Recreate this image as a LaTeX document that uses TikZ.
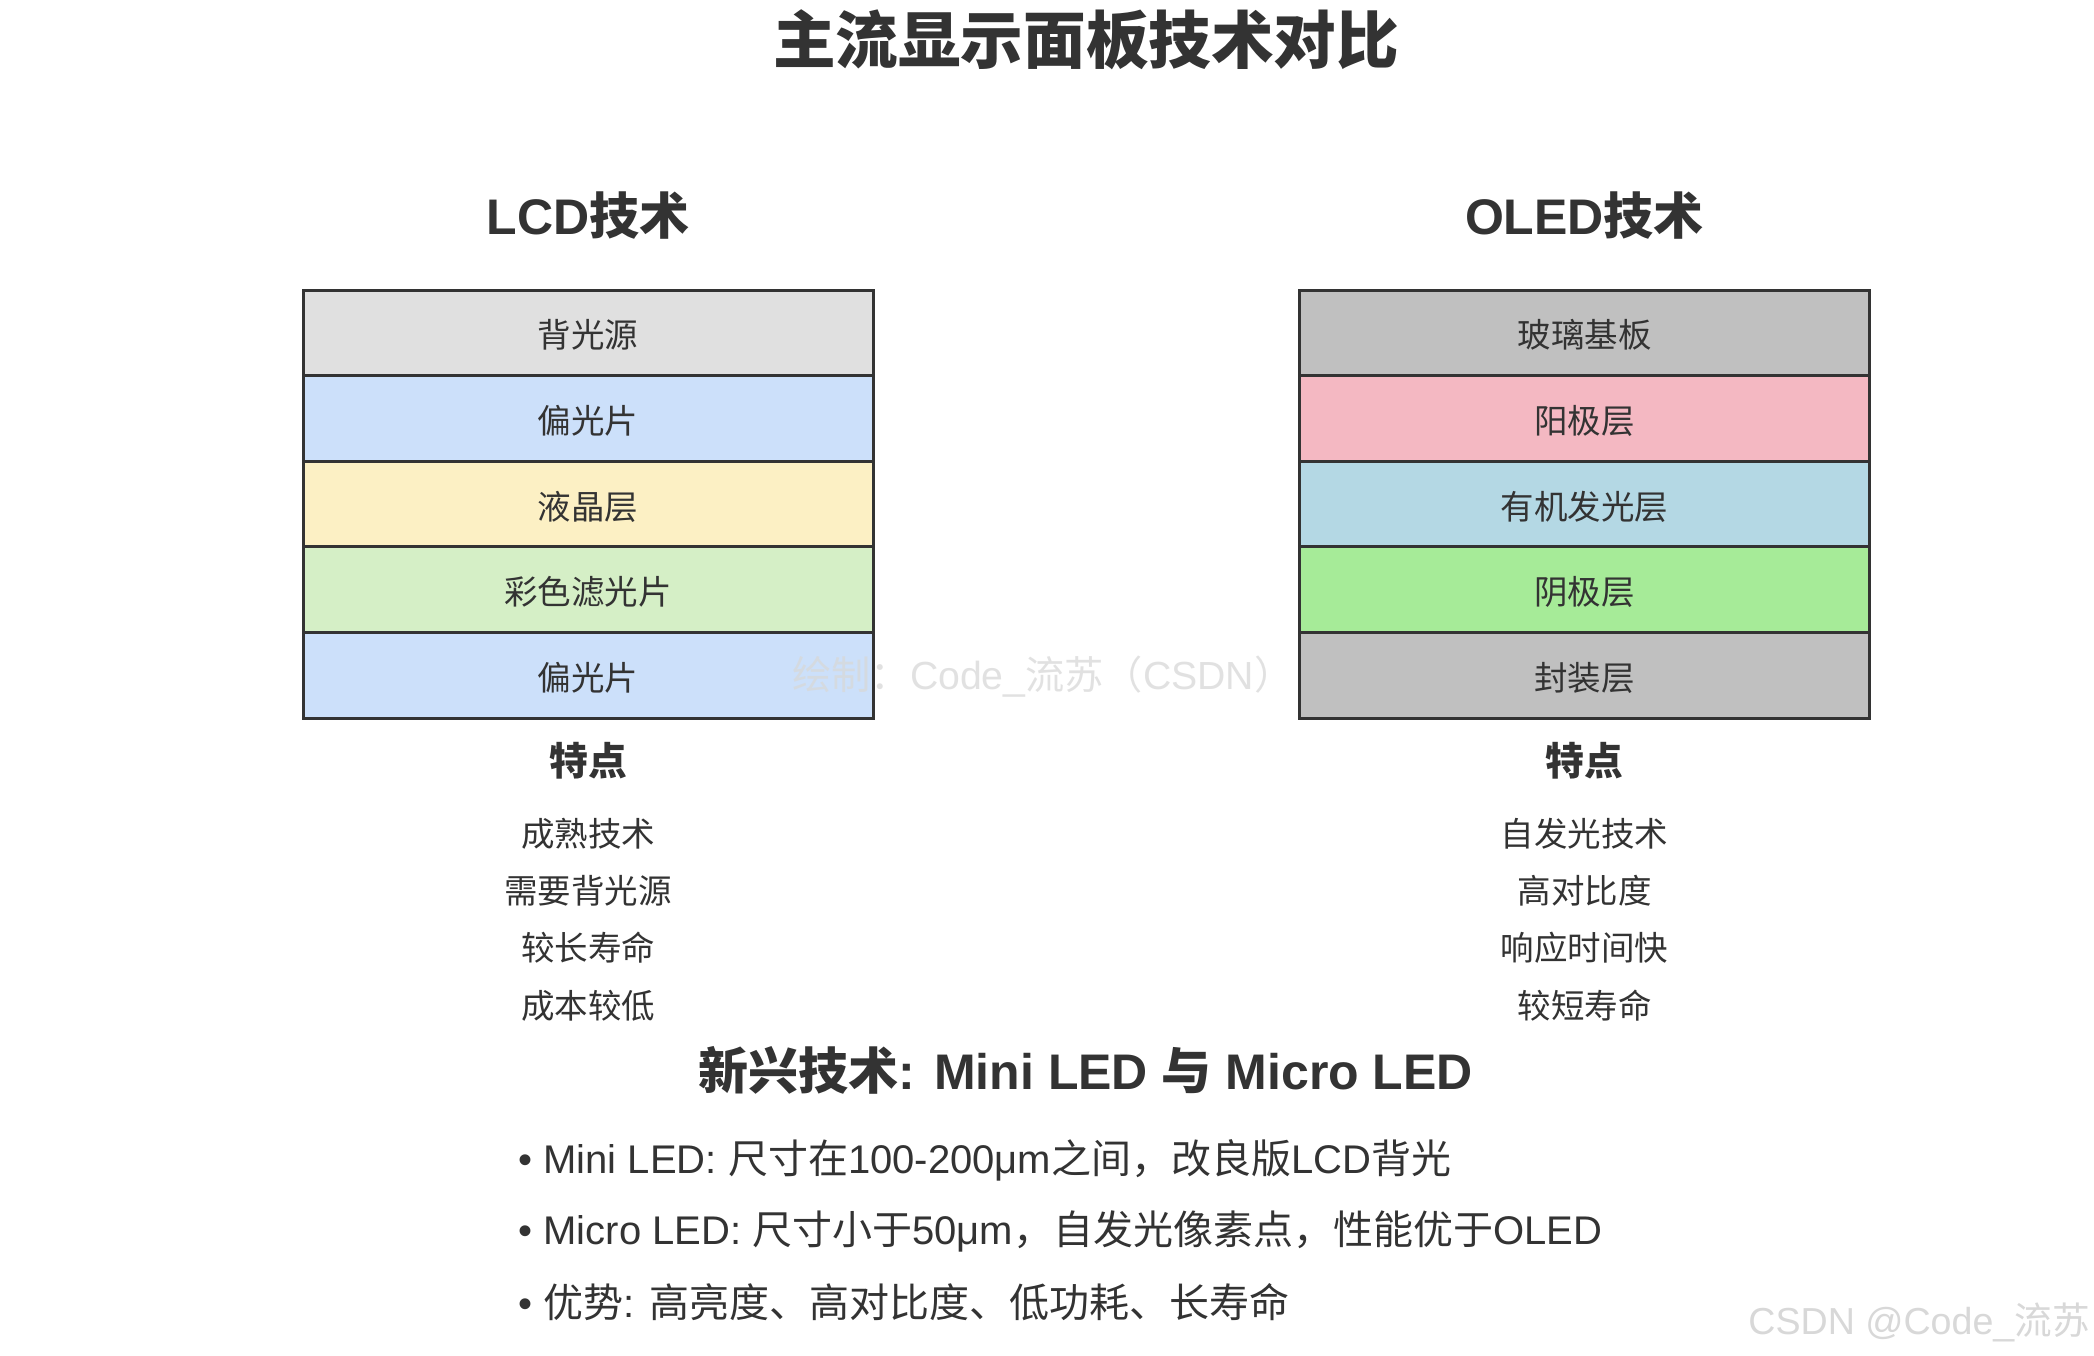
\documentclass[tikz,border=0pt]{standalone}
\usepackage{fontspec}
\setmainfont{Noto Sans CJK SC}
\newfontfamily\lat{Liberation Sans}
\newcommand{\dn}[1]{\raisebox{-1.2pt}[\height][\depth]{#1}}
\definecolor{txt}{HTML}{333333}
\definecolor{bord}{HTML}{333333}
\definecolor{cgray}{HTML}{E0E0E0}
\definecolor{cblue}{HTML}{CCE0FA}
\definecolor{cyellow}{HTML}{FCF0C4}
\definecolor{cgreen}{HTML}{D5EFC6}
\definecolor{csilver}{HTML}{C0C0C0}
\definecolor{cpink}{HTML}{F4B8C2}
\definecolor{clblue}{HTML}{B4D8E4}
\definecolor{clgreen}{HTML}{A6EB98}
\definecolor{wm}{HTML}{D8D8D8}
\begin{document}
\begin{tikzpicture}[x=0.5pt,y=-0.5pt,
  layerbox/.style={draw=bord,line width=1.5pt,minimum width=285pt,minimum height=42.8pt,inner sep=0pt,text=txt,font=\fontsize{16.75}{20}\selectfont},
  maintitle/.style={text=txt,font=\fontsize{31.3}{36}\selectfont\bfseries},
  colhead/.style={text=txt,font=\fontsize{25}{30}\selectfont\bfseries},
  feathead/.style={text=txt,font=\fontsize{19.4}{23}\selectfont\bfseries},
  featitem/.style={text=txt,font=\fontsize{16.75}{20}\selectfont},
  bulletitem/.style={text=txt,anchor=west,inner sep=0pt,font=\fontsize{20}{24}\selectfont},
  watermark/.style={text=wm,font=\fontsize{19.6}{23}\selectfont}
]
\useasboundingbox (0,0) rectangle (2094,1355);
\fill[white] (0,0) rectangle (2094,1355);

\node[maintitle] (title) at (1086,40) {主流显示面板技术对比};

% LCD column
\node[colhead] (lcdhead) at (588,216) {{\lat LCD}技术};
\node[layerbox,fill=cgray]   (l1) at (588,332.8) {\dn{背光源}};
\node[layerbox,fill=cblue]   (l2) at (588,418.4) {\dn{偏光片}};
\node[layerbox,fill=cyellow] (l3) at (588,504.0) {\dn{液晶层}};
\node[layerbox,fill=cgreen]  (l4) at (588,589.6) {\dn{彩色滤光片}};
\node[layerbox,fill=cblue]   (l5) at (588,675.2) {\dn{偏光片}};
\node[feathead] (lfh) at (588,761) {特点};
\node[featitem] (lf1) at (588,834) {成熟技术};
\node[featitem] (lf2) at (588,891) {需要背光源};
\node[featitem] (lf3) at (588,948) {较长寿命};
\node[featitem] (lf4) at (588,1006) {成本较低};

% OLED column
\node[colhead] (oledhead) at (1584.5,216) {{\lat OLED}技术};
\node[layerbox,fill=csilver] (o1) at (1584.5,332.8) {\dn{玻璃基板}};
\node[layerbox,fill=cpink]   (o2) at (1584.5,418.4) {\dn{阳极层}};
\node[layerbox,fill=clblue]  (o3) at (1584.5,504.0) {\dn{有机发光层}};
\node[layerbox,fill=clgreen] (o4) at (1584.5,589.6) {\dn{阴极层}};
\node[layerbox,fill=csilver] (o5) at (1584.5,675.2) {\dn{封装层}};
\node[feathead] (ofh) at (1584.5,761) {特点};
\node[featitem] (of1) at (1584.5,834) {自发光技术};
\node[featitem] (of2) at (1584.5,891) {高对比度};
\node[featitem] (of3) at (1584.5,948) {响应时间快};
\node[featitem] (of4) at (1584.5,1006) {较短寿命};

% Emerging tech
\node[colhead] (newhead) at (1086,1070) {新兴技术{\lat : Mini LED }与{\lat{} Micro LED}};
\node[bulletitem] (b1) at (518,1160) {{\lat • Mini LED: }尺寸在{\lat 100-200μm}之间，改良版{\lat LCD}背光};
\node[bulletitem] (b2) at (518,1231) {{\lat • Micro LED: }尺寸小于{\lat 50μm}，自发光像素点，性能优于{\lat OLED}};
\node[bulletitem] (b3) at (518,1302) {{\lat • }优势{\lat : }高亮度、高对比度、低功耗、长寿命};

% watermarks
\node[watermark,anchor=west,inner sep=0pt,opacity=0.75] (wm1) at (792,677) {绘制：{\lat Code\_}流苏（{\lat CSDN}）};
\node[watermark,anchor=east,inner sep=0pt,font=\fontsize{18.8}{22}\selectfont] (wm2) at (2090,1322) {{\lat CSDN @Code\_}流苏};
\end{tikzpicture}
\end{document}
